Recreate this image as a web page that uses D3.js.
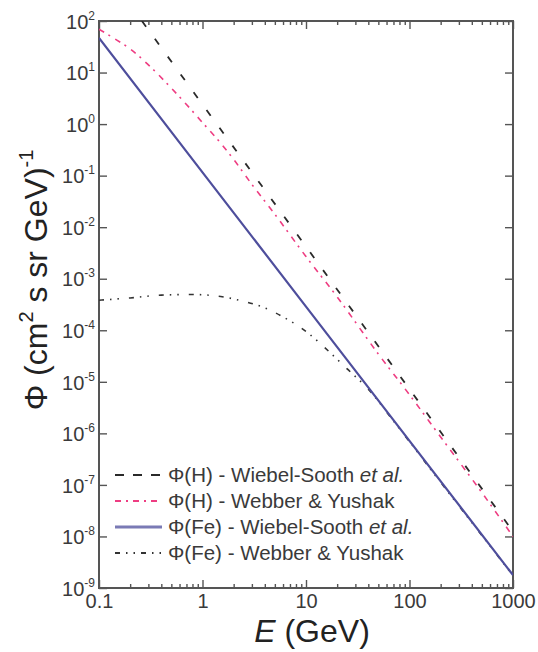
<!DOCTYPE html>
<html><head><meta charset="utf-8">
<script src="https://cdn.jsdelivr.net/npm/d3@7"></script>
<style>
html,body{margin:0;padding:0;background:#fff;}
svg{display:block;font-family:"Liberation Sans",Arial,sans-serif;}
</style></head>
<body><svg id="c" width="538" height="652"></svg>
<script>
// ---- data ----
const xTickValues = [0.1, 1, 10, 100, 1000];
const xTickLabels = ["0.1", "1", "10", "100", "1000"];
const yTickExponents = [-9, -8, -7, -6, -5, -4, -3, -2, -1, 0, 1, 2];

// Φ(H) - Wiebel-Sooth et al.
const hWS_E   = [0.26, 1, 10, 100, 1000];
const hWS_Phi = [100, 2.4, 4.2e-3, 7.2e-6, 1.25e-8];

// Φ(H) - Webber & Yushak
const hWY_E   = [0.1, 0.15, 0.2, 0.3, 0.5, 0.7, 1, 1.5, 2, 3, 5, 10, 20, 50, 100, 200, 500, 1000];
const hWY_Phi = [69.2, 42.1, 28.8, 14.1, 4.99, 2.40, 1.07, 0.427, 0.206, 0.0676, 0.0178, 2.69e-3, 4.44e-4, 3.46e-5, 5.62e-6, 8.5e-7, 7.1e-8, 1.0e-8];

// Φ(Fe) - Wiebel-Sooth et al.
const feWS_E   = [0.1, 1, 10, 100, 1000];
const feWS_Phi = [47, 0.116, 2.88e-4, 7.16e-7, 1.78e-9];

// Φ(Fe) - Webber & Yushak
const feWY_E   = [0.1, 0.2, 0.4, 0.8, 1.5, 2.5, 4, 6, 10, 15, 25, 40, 70, 100, 200, 500, 1000];
const feWY_Phi = [3.83e-4, 4.24e-4, 4.81e-4, 4.94e-4, 4.52e-4, 3.63e-4, 2.72e-4, 1.82e-4, 9.5e-5, 4.7e-5, 1.78e-5, 7.2e-6, 1.74e-6, 6.9e-7, 1.12e-7, 1.05e-8, 1.74e-9];

const legendLabels = [
  ["Φ(H) - Wiebel-Sooth ", "et al."],
  ["Φ(H) - Webber & Yushak", ""],
  ["Φ(Fe) - Wiebel-Sooth ", "et al."],
  ["Φ(Fe) - Webber & Yushak", ""]
];

// ---- layout ----
const L = 99, R = 513, T = 21, B = 588;
const svg = d3.select("#c");
const x = d3.scaleLog().domain([0.1, 1000]).range([L, R]);
const y = d3.scaleLog().domain([1e-9, 1e2]).range([B, T]);

const axisColor = "#555";
const textColor = "#3a3a3a";

svg.append("defs").append("clipPath").attr("id", "clip")
  .append("rect").attr("x", L).attr("y", T).attr("width", R - L).attr("height", B - T);

// minor x ticks
const minorX = [];
for (let d = 0.1; d < 1000; d *= 10) for (let k = 2; k <= 9; k++) minorX.push(d * k);

function styleAxis(g) {
  g.selectAll(".domain").remove();
  g.selectAll(".tick line").attr("stroke", axisColor).attr("stroke-width", 1.4);
}

// bottom axis
svg.append("g").attr("transform", `translate(0,${B})`)
  .call(d3.axisBottom(x).tickValues(xTickValues).tickSize(-8).tickPadding(6)
    .tickFormat((d, i) => xTickLabels[i]))
  .call(styleAxis)
  .call(g => g.selectAll("text").attr("font-size", 20).attr("fill", textColor)
    .attr("font-family", "Liberation Sans, Arial, sans-serif"));
svg.append("g").attr("transform", `translate(0,${B})`)
  .call(d3.axisBottom(x).tickValues(minorX).tickSize(-4).tickFormat(""))
  .call(styleAxis);
// top axis
svg.append("g").attr("transform", `translate(0,${T})`)
  .call(d3.axisTop(x).tickValues(xTickValues).tickSize(-8).tickFormat(""))
  .call(styleAxis);
svg.append("g").attr("transform", `translate(0,${T})`)
  .call(d3.axisTop(x).tickValues(minorX).tickSize(-4).tickFormat(""))
  .call(styleAxis);

// left axis
const yVals = yTickExponents.map(e => Math.pow(10, e));
const leftAx = svg.append("g").attr("transform", `translate(${L},0)`)
  .call(d3.axisLeft(y).tickValues(yVals).tickSize(-8).tickPadding(5).tickFormat(""))
  .call(styleAxis);
leftAx.selectAll(".tick").each(function (d, i) {
  const t = d3.select(this).select("text")
    .attr("font-size", 20).attr("fill", textColor).attr("dy", "0.36em")
    .attr("x", -4)
    .attr("font-family", "Liberation Sans, Arial, sans-serif");
  t.text(null);
  t.append("tspan").text("10");
  t.append("tspan").attr("font-size", 12).attr("dy", -9).text(String(yTickExponents[i]));
});
// right axis
svg.append("g").attr("transform", `translate(${R},0)`)
  .call(d3.axisRight(y).tickValues(yVals).tickSize(-8).tickFormat(""))
  .call(styleAxis);

// frame
svg.append("rect").attr("x", L).attr("y", T).attr("width", R - L).attr("height", B - T)
  .attr("fill", "none").attr("stroke", axisColor).attr("stroke-width", 2);

// ---- series ----
const zip = (a, b) => a.map((v, i) => [v, b[i]]);
const lineLin = d3.line().x(d => x(d[0])).y(d => y(d[1]));
const lineCurve = d3.line().x(d => x(d[0])).y(d => y(d[1])).curve(d3.curveMonotoneX);

const series = [
  { data: zip(feWY_E, feWY_Phi), gen: lineCurve, color: "#333", w: 1.6, dash: "5,6,1.5,6,1.5,10", ldash: "5,6,1.5,6,1.5,6" },
  { data: zip(feWS_E, feWS_Phi), gen: lineLin, color: "#4e4e9c", w: 2.2, dash: null, ldash: null },
  { data: zip(hWY_E, hWY_Phi), gen: lineCurve, color: "#ee3d82", w: 1.6, dash: "6,5,2,6", ldash: "6,5,2,5" },
  { data: zip(hWS_E, hWS_Phi), gen: lineLin, color: "#2a2a2a", w: 1.8, dash: "7,15", ldash: "9,9" }
];
const plot = svg.append("g").attr("clip-path", "url(#clip)");
series.forEach(s => {
  plot.append("path").attr("d", s.gen(s.data)).attr("fill", "none")
    .attr("stroke", s.color).attr("stroke-width", s.w)
    .attr("stroke-dasharray", s.dash);
});

// ---- legend ----
const legendOrder = [3, 2, 1, 0];
const legY = [475, 501, 527, 553];
legendOrder.forEach((si, i) => {
  const s = series[si];
  svg.append("line").attr("x1", 115).attr("x2", 162).attr("y1", legY[i]).attr("y2", legY[i])
    .attr("stroke", s.color).attr("stroke-width", si === 1 ? 3 : 2)
    .attr("stroke-opacity", si === 1 ? 0.75 : 1)
    .attr("stroke-dasharray", s.ldash);
  const t = svg.append("text").attr("x", 168).attr("y", legY[i]).attr("dy", "0.36em")
    .attr("font-size", 20.5).attr("fill", textColor);
  t.append("tspan").text(legendLabels[i][0]);
  if (legendLabels[i][1]) t.append("tspan").attr("font-style", "italic").text(legendLabels[i][1]);
});

// ---- axis titles ----
const xt = svg.append("text").attr("x", 312).attr("y", 642).attr("text-anchor", "middle")
  .attr("font-size", 32).attr("fill", "#222");
xt.append("tspan").attr("font-style", "italic").text("E");
xt.append("tspan").text(" (GeV)");

const yt = svg.append("text").attr("transform", "translate(47,280) rotate(-90)")
  .attr("text-anchor", "middle").attr("font-size", 32).attr("fill", "#222");
yt.append("tspan").text("Φ (cm");
yt.append("tspan").attr("font-size", 20).attr("dy", -14).text("2");
yt.append("tspan").attr("dy", 14).text(" s sr GeV)");
yt.append("tspan").attr("font-size", 20).attr("dy", -14).text("-1");
</script></body></html>
